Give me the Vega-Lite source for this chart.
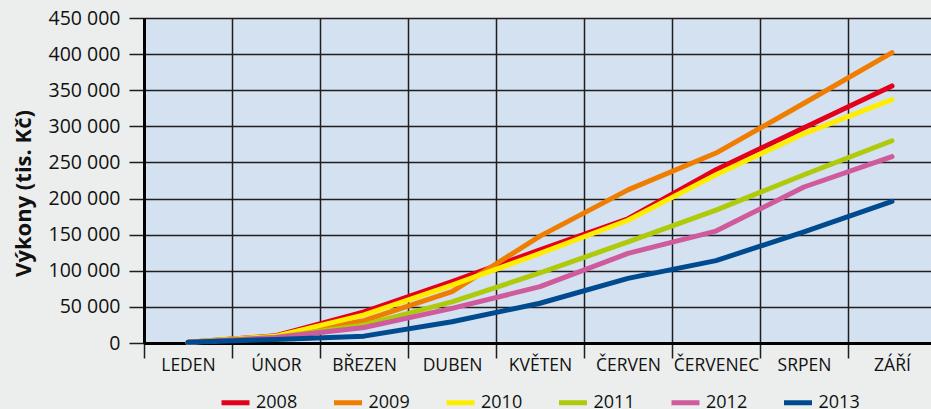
{
  "$schema": "https://vega.github.io/schema/vega-lite/v6.json",
  "width": 787,
  "height": 325,
  "autosize": {"type": "none"},
  "padding": {"left": 144, "top": 18, "right": 0, "bottom": 66},
  "background": "#eceeed",
  "config": {
    "view": {"fill": "#d4e1f0", "stroke": null},
    "font": "Open Sans",
    "axis": {
      "labelColor": "#111111",
      "titleColor": "#111111",
      "domainColor": "#000000",
      "domainWidth": 3,
      "gridColor": "#1e1e1e",
      "gridWidth": 1.5,
      "gridOpacity": 1,
      "tickColor": "#1e1e1e",
      "tickWidth": 1.5,
      "tickSize": 15
    }
  },
  "data": {
    "values": [
      {"year": "2008", "month": "LEDEN", "value": 1000},
      {"year": "2008", "month": "ÚNOR", "value": 10000},
      {"year": "2008", "month": "BŘEZEN", "value": 43000},
      {"year": "2008", "month": "DUBEN", "value": 85000},
      {"year": "2008", "month": "KVĚTEN", "value": 129000},
      {"year": "2008", "month": "ČERVEN", "value": 172000},
      {"year": "2008", "month": "ČERVENEC", "value": 240000},
      {"year": "2008", "month": "SRPEN", "value": 298000},
      {"year": "2008", "month": "ZÁŘÍ", "value": 356000},
      {"year": "2009", "month": "LEDEN", "value": 1000},
      {"year": "2009", "month": "ÚNOR", "value": 9500},
      {"year": "2009", "month": "BŘEZEN", "value": 31000},
      {"year": "2009", "month": "DUBEN", "value": 71000},
      {"year": "2009", "month": "KVĚTEN", "value": 148000},
      {"year": "2009", "month": "ČERVEN", "value": 212000},
      {"year": "2009", "month": "ČERVENEC", "value": 263000},
      {"year": "2009", "month": "SRPEN", "value": 332000},
      {"year": "2009", "month": "ZÁŘÍ", "value": 402000},
      {"year": "2010", "month": "LEDEN", "value": 1000},
      {"year": "2010", "month": "ÚNOR", "value": 9500},
      {"year": "2010", "month": "BŘEZEN", "value": 39000},
      {"year": "2010", "month": "DUBEN", "value": 80000},
      {"year": "2010", "month": "KVĚTEN", "value": 124000},
      {"year": "2010", "month": "ČERVEN", "value": 170000},
      {"year": "2010", "month": "ČERVENEC", "value": 233000},
      {"year": "2010", "month": "SRPEN", "value": 290000},
      {"year": "2010", "month": "ZÁŘÍ", "value": 337000},
      {"year": "2011", "month": "LEDEN", "value": 1000},
      {"year": "2011", "month": "ÚNOR", "value": 8000},
      {"year": "2011", "month": "BŘEZEN", "value": 25000},
      {"year": "2011", "month": "DUBEN", "value": 57000},
      {"year": "2011", "month": "KVĚTEN", "value": 97000},
      {"year": "2011", "month": "ČERVEN", "value": 140000},
      {"year": "2011", "month": "ČERVENEC", "value": 184000},
      {"year": "2011", "month": "SRPEN", "value": 233000},
      {"year": "2011", "month": "ZÁŘÍ", "value": 280000},
      {"year": "2012", "month": "LEDEN", "value": 1000},
      {"year": "2012", "month": "ÚNOR", "value": 7500},
      {"year": "2012", "month": "BŘEZEN", "value": 21500},
      {"year": "2012", "month": "DUBEN", "value": 48000},
      {"year": "2012", "month": "KVĚTEN", "value": 78000},
      {"year": "2012", "month": "ČERVEN", "value": 124000},
      {"year": "2012", "month": "ČERVENEC", "value": 155000},
      {"year": "2012", "month": "SRPEN", "value": 216000},
      {"year": "2012", "month": "ZÁŘÍ", "value": 258000},
      {"year": "2013", "month": "LEDEN", "value": 1000},
      {"year": "2013", "month": "ÚNOR", "value": 5000},
      {"year": "2013", "month": "BŘEZEN", "value": 9500},
      {"year": "2013", "month": "DUBEN", "value": 29500},
      {"year": "2013", "month": "KVĚTEN", "value": 55000},
      {"year": "2013", "month": "ČERVEN", "value": 89500},
      {"year": "2013", "month": "ČERVENEC", "value": 114000},
      {"year": "2013", "month": "SRPEN", "value": 154000},
      {"year": "2013", "month": "ZÁŘÍ", "value": 196000}
    ]
  },
  "mark": {"type": "line", "strokeWidth": 5, "strokeCap": "round", "strokeJoin": "round"},
  "encoding": {
    "x": {
      "field": "month",
      "type": "ordinal",
      "sort": ["LEDEN", "ÚNOR", "BŘEZEN", "DUBEN", "KVĚTEN", "ČERVEN", "ČERVENEC", "SRPEN", "ZÁŘÍ"],
      "scale": {"type": "band", "range": [0, 792], "paddingInner": 0, "paddingOuter": 0},
      "axis": {
        "title": null,
        "grid": true,
        "tickBand": "extent",
        "labelAngle": 0,
        "labelFontSize": 17.5,
        "labelPadding": -2,
        "labelBaseline": "top"
      }
    },
    "y": {
      "field": "value",
      "type": "quantitative",
      "scale": {"domain": [0, 450000], "nice": false},
      "axis": {
        "title": "Výkony (tis. Kč)",
        "titleFontSize": 22,
        "titleFontWeight": "bold",
        "titleBaseline": "middle",
        "titleX": -121,
        "titleY": 175,
        "values": [0, 50000, 100000, 150000, 200000, 250000, 300000, 350000, 400000, 450000],
        "labelExpr": "replace(format(datum.value, ','), ',', ' ')",
        "labelFontSize": 19.5,
        "labelPadding": 9,
        "grid": true
      }
    },
    "color": {
      "field": "year",
      "type": "nominal",
      "scale": {
        "domain": ["2008", "2009", "2010", "2011", "2012", "2013"],
        "range": ["#e2001a", "#ef7d00", "#ffed00", "#afca0b", "#cf5a9c", "#004b8f"]
      },
      "legend": {
        "orient": "none",
        "direction": "horizontal",
        "legendX": 75,
        "legendY": 368,
        "title": null,
        "symbolType": "stroke",
        "symbolSize": 784,
        "symbolStrokeWidth": 5,
        "labelFontSize": 18,
        "labelColor": "#111111",
        "labelOffset": 4,
        "columnPadding": 25.5,
        "padding": 0
      }
    }
  }
}
